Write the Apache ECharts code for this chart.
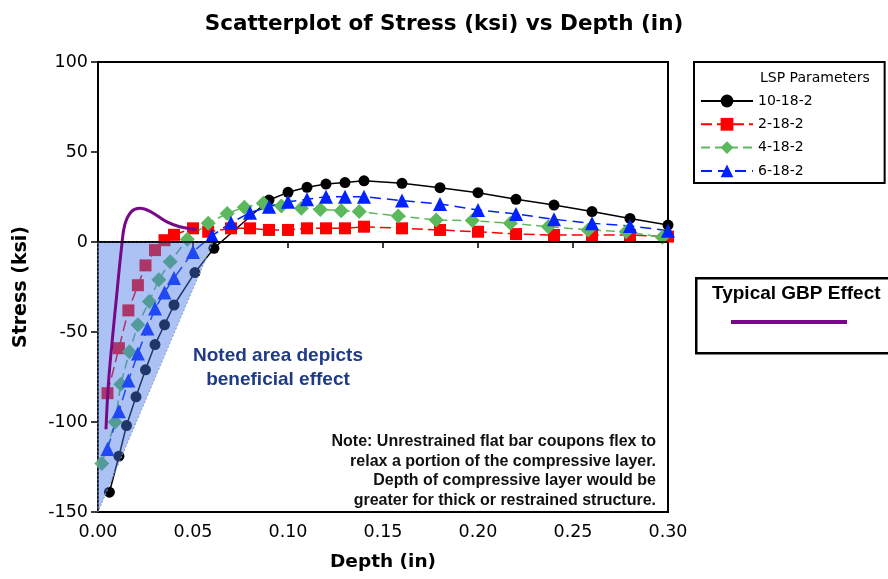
<!DOCTYPE html>
<html><head><meta charset="utf-8">
<script src="https://cdn.jsdelivr.net/npm/echarts@6/dist/echarts.min.js"></script>
<style>html,body{margin:0;padding:0;background:#fff}#c{width:888px;height:579px}</style>
</head><body><div id="c"></div>
<script>
// ---- data ----
const seriesNames = ['10-18-2', '2-18-2', '4-18-2', '6-18-2'];
const s10_18_2 = [[0.006,-139],[0.011,-119],[0.015,-102],[0.020,-86],[0.025,-71],[0.030,-57],[0.035,-46],[0.040,-35],[0.051,-17],[0.061,-3.5],[0.090,23.3],[0.100,27.6],[0.110,30.4],[0.120,32.2],[0.130,33],[0.140,34],[0.160,32.6],[0.180,30.2],[0.200,27.4],[0.220,23.7],[0.240,20.5],[0.260,16.9],[0.280,13.1],[0.300,9.4]];
const s2_18_2 = [[0.005,-84],[0.011,-59],[0.016,-38],[0.021,-24],[0.025,-13],[0.030,-4.5],[0.035,1],[0.040,4],[0.050,7.6],[0.058,5.7],[0.070,7.6],[0.080,7.6],[0.090,6.7],[0.100,6.7],[0.110,7.6],[0.120,7.6],[0.130,7.6],[0.140,8.5],[0.160,7.6],[0.180,6.7],[0.200,5.7],[0.220,4.4],[0.240,3.9],[0.260,3.9],[0.280,3.9],[0.300,3]];
const s4_18_2 = [[0.002,-123],[0.009,-100],[0.012,-79],[0.0165,-61],[0.021,-46],[0.027,-33],[0.032,-21],[0.038,-11],[0.047,1.5],[0.058,10.4],[0.068,15.9],[0.077,19.3],[0.087,21.5],[0.0965,20],[0.107,18.7],[0.117,18.1],[0.128,17.4],[0.1375,16.9],[0.158,14.4],[0.178,12.2],[0.197,11.9],[0.217,10.4],[0.237,8.5],[0.258,6.7],[0.278,5.7],[0.297,2.6]];
const s6_18_2 = [[0.005,-115],[0.011,-94],[0.016,-77],[0.021,-62],[0.026,-48],[0.030,-37],[0.035,-28],[0.040,-20],[0.050,-5.5],[0.060,3.5],[0.070,10.7],[0.080,16.3],[0.090,19.6],[0.100,22.4],[0.110,23.7],[0.120,25.2],[0.130,25.2],[0.140,25.2],[0.160,23],[0.180,21.1],[0.200,17.8],[0.220,15.6],[0.240,12.6],[0.260,10.4],[0.280,8.9],[0.300,6.3]];
const gbpEffect = [[0.0042,-104],[0.0054,-80],[0.0072,-58],[0.0098,-30],[0.0125,-2],[0.0142,10],[0.0177,17],[0.022,18.7],[0.0274,17],[0.036,11.3],[0.043,8.5],[0.052,7]];
const shadeArea = [[0,0],[0.0605,0],[0,-150]];
const xRange = [0, 0.30, 0.05];
const yRange = [-150, 100, 50];

const colors = ['#000000', '#ff0000', '#5cb85c', '#0022ff'];
const symbols = ['circle', 'rect', 'diamond', 'triangle'];
const sizes = [11, 12, 15, 14];
const dashes = ['solid', [11, 5], [9, 5], [11, 6]];
const dataSets = [s10_18_2, s2_18_2, s4_18_2, s6_18_2];

const chart = echarts.init(document.getElementById('c'));
const lineSeries = dataSets.map((d, i) => ({
  name: seriesNames[i], type: 'line', data: d, z: 2,
  symbol: symbols[i], symbolSize: sizes[i], showSymbol: true,
  itemStyle: { color: colors[i] },
  lineStyle: { color: colors[i], width: 1.5, type: dashes[i] },
  emphasis: { disabled: true }, animation: false
}));
lineSeries[0].markLine = {
  silent: true, symbol: ['none', 'none'], label: { show: false },
  lineStyle: { color: '#000', width: 1.5, type: 'solid' },
  data: [{ yAxis: 0 }], animation: false
};

chart.setOption({
  animation: false,
  backgroundColor: '#fff',
  title: {
    text: 'Scatterplot of Stress (ksi) vs Depth (in)', left: 'center', top: 8,
    textStyle: { fontFamily: 'DejaVu Sans', fontWeight: 'bold', fontSize: 21.5, color: '#000' }
  },
  grid: { left: 98, top: 62, right: 220, bottom: 67, show: true, borderColor: '#000', borderWidth: 2, backgroundColor: 'transparent' },
  xAxis: {
    type: 'value', min: xRange[0], max: xRange[1], interval: xRange[2],
    name: 'Depth (in)', nameLocation: 'middle', nameGap: 41,
    nameTextStyle: { fontFamily: 'DejaVu Sans', fontWeight: 'bold', fontSize: 18.5, color: '#000' },
    axisLine: { show: true, lineStyle: { color: '#000', width: 2 } },
    axisTick: { show: true, length: 6, lineStyle: { color: '#000', width: 1.5 } },
    axisLabel: { margin: 11, fontFamily: 'DejaVu Sans', fontSize: 17.5, color: '#000', formatter: v => v.toFixed(2) },
    splitLine: { show: false }
  },
  yAxis: {
    type: 'value', min: yRange[0], max: yRange[1], interval: yRange[2],
    name: 'Stress (ksi)', nameLocation: 'middle', nameGap: 67,
    nameTextStyle: { fontFamily: 'DejaVu Sans', fontWeight: 'bold', fontSize: 19, color: '#000' },
    axisLine: { show: true, onZero: false, lineStyle: { color: '#000', width: 2 } },
    axisTick: { show: true, length: 7, lineStyle: { color: '#000', width: 1.5 } },
    axisLabel: { margin: 10, fontFamily: 'DejaVu Sans', fontSize: 17.5, color: '#000' },
    splitLine: { show: false }
  },
  legend: {
    data: seriesNames, orient: 'vertical', left: 694, top: 62,
    padding: [32, 72, 5, 6], itemGap: 9.3, itemWidth: 52, itemHeight: 16,
    borderColor: '#000', borderWidth: 2, backgroundColor: '#fff',
    textStyle: { fontFamily: 'DejaVu Sans', fontSize: 14, color: '#000' },
    selectedMode: false
  },
  graphic: [
    { type: 'text', left: 760, top: 71, z: 100, style: { text: 'LSP Parameters', font: '14px "DejaVu Sans"', fill: '#000' } },
    { type: 'rect', left: 695, top: 277, shape: { width: 200, height: 75 }, style: { fill: '#fff', stroke: '#000', lineWidth: 2.5 } },
    { type: 'text', left: 712, top: 284, style: { text: 'Typical GBP Effect', font: 'bold 19px "Liberation Sans"', fill: '#000' } },
    { type: 'line', shape: { x1: 731, y1: 322, x2: 847, y2: 322 }, style: { stroke: '#760a86', lineWidth: 4 } },
    { type: 'text', x: 278, y: 368, z: 10, style: { text: 'Noted area depicts\nbeneficial effect', font: 'bold 19px "Liberation Sans"', fill: '#1f3a86', align: 'center', verticalAlign: 'middle', lineHeight: 23.5 } },
    { type: 'text', x: 656, y: 471, z: 10, style: { text: 'Note: Unrestrained flat bar coupons flex to\nrelax a portion of the compressive layer.\nDepth of compressive layer would be\ngreater for thick or restrained structure.', font: 'bold 16px "Liberation Sans"', fill: '#111', align: 'right', verticalAlign: 'middle', lineHeight: 19.7 } }
  ],
  series: lineSeries.concat([
    {
      type: 'custom', name: 'shade', z: 3, silent: true, data: shadeArea,
      encode: { x: 0, y: 1 },
      renderItem: function (params, api) {
        if (params.dataIndex !== 0) return null;
        const pts = shadeArea.map(p => api.coord(p));
        return { type: 'polygon', shape: { points: pts },
          style: { fill: 'rgba(70,120,230,0.45)', stroke: '#8a9cc0', lineWidth: 1, lineDash: [2, 2] } };
      }
    },
    {
      type: 'line', name: 'Typical GBP Effect', data: gbpEffect, z: 4, smooth: 0.4,
      showSymbol: false, symbol: 'none',
      lineStyle: { color: '#760a86', width: 3 }, emphasis: { disabled: true }
    }
  ])
});
</script>
</body></html>
